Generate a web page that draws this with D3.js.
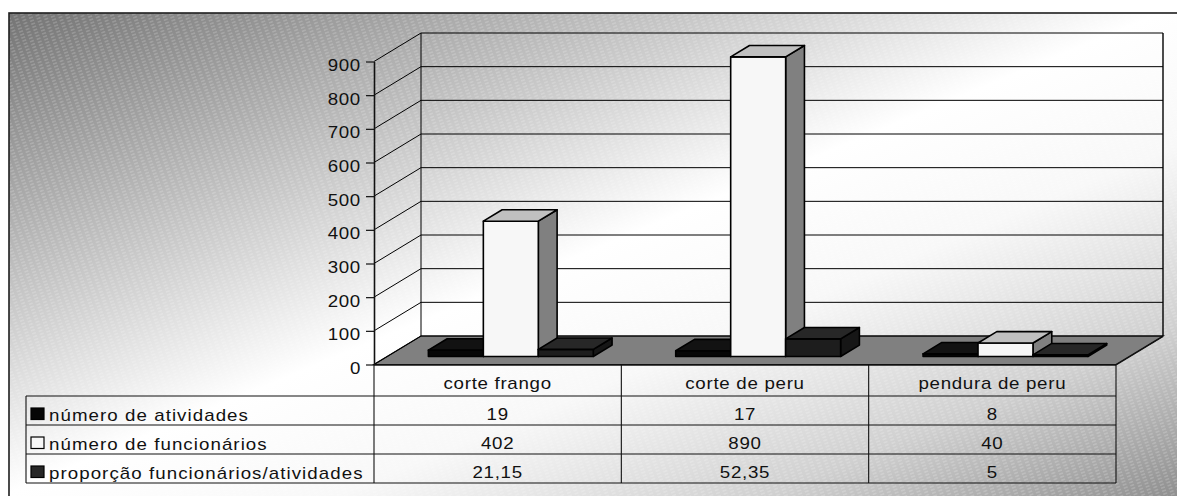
<!DOCTYPE html>
<html>
<head>
<meta charset="utf-8">
<script src="https://cdn.jsdelivr.net/npm/d3@7"></script>
<style>
  body { margin: 0; background: #fff; }
  svg { display: block; }
  text { font-family: "Liberation Sans", Arial, sans-serif; font-size: 16px; fill: #111; letter-spacing: 0.6px; }
  text.row { letter-spacing: 0.9px; }
</style>
</head>
<body>
<svg id="chart" width="1177" height="496"></svg>
<script>
// Data
const categories = ["corte frango", "corte de peru", "pendura de peru"];
const seriesNames = ["número de atividades", "número de funcionários", "proporção funcionários/atividades"];
const atividades = [19, 17, 8];
const funcionarios = [402, 890, 40];
const proporcao = [21.15, 52.35, 5];
const yTicks = [0, 100, 200, 300, 400, 500, 600, 700, 800, 900];

const seriesValues = [atividades, funcionarios, proporcao];
const fmt = v => String(v).replace(".", ",");

// Face colours per series: front, top, side
const faces = [
  { front: "#060606", top: "#121212", side: "#0c0c0c", key: "#060606" },
  { front: "#f7f7f7", top: "#c0c0c0", side: "#808080", key: "#f7f7f7" },
  { front: "#1d1d1d", top: "#272727", side: "#161616", key: "#262626" }
];

const svg = d3.select("#chart");
const SX = 1.17; // horizontal text stretch

// Layout of the 3-D box
const X0 = 374, X1 = 1116;   // front floor edge
const DX = 47, DY = -28.5;   // depth offset to the back wall
const D0 = 0.28, D1 = 0.68;  // depth of bar front and back faces

const y = d3.scaleLinear().domain([0, 900]).range([364.5, 61.5]);
const x = d3.scaleBand().domain(categories).range([X0, X1]);
const xs = d3.scaleBand().domain(d3.range(seriesNames.length)).range([0, x.bandwidth()])
  .paddingInner(0).paddingOuter(0.75);

const P = (xf, v, d) => [xf + d * DX, y(v) + d * DY];
const poly = pts => "M" + pts.map(p => p.join(",")).join("L") + "Z";

// Background: diagonal grey gradient with a fine hatch
const defs = svg.append("defs");
const grad = defs.append("linearGradient").attr("id", "bg")
  .attr("x1", 0).attr("y1", 0).attr("x2", 1).attr("y2", 1);
[[0, "#747474"], [0.48, "#ffffff"], [0.62, "#f8f8f8"], [0.8, "#d0d0d0"], [1, "#848484"]]
  .forEach(([o, c]) => grad.append("stop").attr("offset", o).attr("stop-color", c));

const hatch = defs.append("pattern").attr("id", "hatch")
  .attr("patternUnits", "userSpaceOnUse").attr("width", 7).attr("height", 3.2)
  .attr("patternTransform", "rotate(-20)");
hatch.append("line").attr("x1", 0).attr("y1", 1.6).attr("x2", 4).attr("y2", 1.6)
  .attr("stroke", "#fff").attr("stroke-opacity", 0.3).attr("stroke-width", 0.9);

svg.append("rect").attr("x", 9).attr("y", 13).attr("width", 1200).attr("height", 500)
  .attr("fill", "url(#bg)");
svg.append("rect").attr("x", 9).attr("y", 13).attr("width", 1200).attr("height", 500)
  .attr("fill", "url(#hatch)").attr("stroke", "#1e1e1e").attr("stroke-width", 1.6);

const plot = svg.append("g");

// Floor
plot.append("path")
  .attr("d", poly([P(X0, 0, 0), P(X1, 0, 0), P(X1, 0, 1), P(X0, 0, 1)]))
  .attr("fill", "#808080").attr("stroke", "#111").attr("stroke-width", 1.2);

// Gridlines: side wall diagonals and back wall horizontals
const grid = plot.append("g").attr("stroke", "#000").attr("stroke-width", 1).attr("fill", "none");
yTicks.forEach(v => {
  const a = P(X0, v, 0), b = P(X0, v, 1), c = P(X1, v, 1);
  grid.append("path").attr("d", `M${a}L${b}L${c}`);
});
// back wall edges
grid.append("line").attr("x1", P(X0, 0, 1)[0]).attr("y1", P(X0, 0, 1)[1])
  .attr("x2", P(X0, 900, 1)[0]).attr("y2", P(X0, 900, 1)[1]);
grid.append("line").attr("x1", P(X1, 0, 1)[0]).attr("y1", P(X1, 0, 1)[1])
  .attr("x2", P(X1, 900, 1)[0]).attr("y2", P(X1, 900, 1)[1]).attr("stroke-width", 1.4);

// Y axis
const axis = plot.append("g").attr("transform", `translate(${X0},0)`)
  .call(d3.axisLeft(y).tickValues(yTicks).tickSize(8).tickSizeOuter(0));
axis.select(".domain").attr("stroke", "#111").attr("stroke-width", 1.6);
axis.selectAll(".tick line").attr("stroke", "#111").attr("stroke-width", 1.2);
axis.selectAll(".tick text")
  .attr("x", null).attr("dy", null).attr("fill", "#111")
  .style("font-size", "16px").style("font-family", '"Liberation Sans", Arial, sans-serif')
  .attr("text-anchor", "end")
  .attr("transform", `translate(-13,9) scale(${SX},1)`);

// Bars
const bars = plot.append("g").attr("stroke", "#000").attr("stroke-width", 1.6)
  .attr("stroke-linejoin", "round");
categories.forEach((cat, i) => {
  seriesValues.forEach((vals, s) => {
    const v = vals[i];
    const xl = x(cat) + xs(s), xr = xl + xs.bandwidth();
    const g = bars.append("g");
    g.append("path").attr("fill", faces[s].side)
      .attr("d", poly([P(xr, 0, D0), P(xr, 0, D1), P(xr, v, D1), P(xr, v, D0)]));
    g.append("path").attr("fill", faces[s].front)
      .attr("d", poly([P(xl, 0, D0), P(xr, 0, D0), P(xr, v, D0), P(xl, v, D0)]));
    g.append("path").attr("fill", faces[s].top)
      .attr("d", poly([P(xl, v, D0), P(xr, v, D0), P(xr, v, D1), P(xl, v, D1)]));
  });
});

// Data table
const rowTop = 365, headH = 31, rowH = 29, legendX = 26;
const rowY = d3.range(seriesNames.length + 1).map(k => rowTop + headH + k * rowH);
const table = svg.append("g");
const tl = table.append("g").attr("stroke", "#111").attr("stroke-width", 1.1);
rowY.forEach(ry => tl.append("line").attr("x1", legendX).attr("x2", X1).attr("y1", ry).attr("y2", ry));
tl.append("line").attr("x1", legendX).attr("x2", legendX).attr("y1", rowY[0]).attr("y2", rowY[rowY.length - 1]);
[X0, ...categories.slice(1).map(c => x(c)), X1].forEach(cx =>
  tl.append("line").attr("x1", cx).attr("x2", cx).attr("y1", rowTop).attr("y2", rowY[rowY.length - 1]));
tl.append("line").attr("x1", X1).attr("y1", rowTop).attr("x2", X1 + DX).attr("y2", rowTop + DY)
  .attr("stroke-width", 1.2);
tl.append("line").attr("x1", X0).attr("x2", X1).attr("y1", rowTop).attr("y2", rowTop)
  .attr("stroke-width", 1.6);

function label(txt, tx, ty, anchor, cls) {
  table.append("text").attr("text-anchor", anchor).attr("class", cls || null)
    .attr("transform", `translate(${tx},${ty}) scale(${SX},1)`).text(txt);
}

categories.forEach(c => label(c, x(c) + x.bandwidth() / 2, rowTop + 24, "middle"));
seriesNames.forEach((name, s) => {
  const top = rowY[s];
  table.append("rect").attr("x", 31).attr("y", top + 12).attr("width", 13).attr("height", 11.5)
    .attr("fill", faces[s].key).attr("stroke", "#000").attr("stroke-width", 1.2);
  label(name, 49, top + rowH - 4.5, "start", "row");
  seriesValues[s].forEach((v, i) =>
    label(fmt(v), x(categories[i]) + x.bandwidth() / 2, top + rowH - 5.5, "middle"));
});
</script>
</body>
</html>
